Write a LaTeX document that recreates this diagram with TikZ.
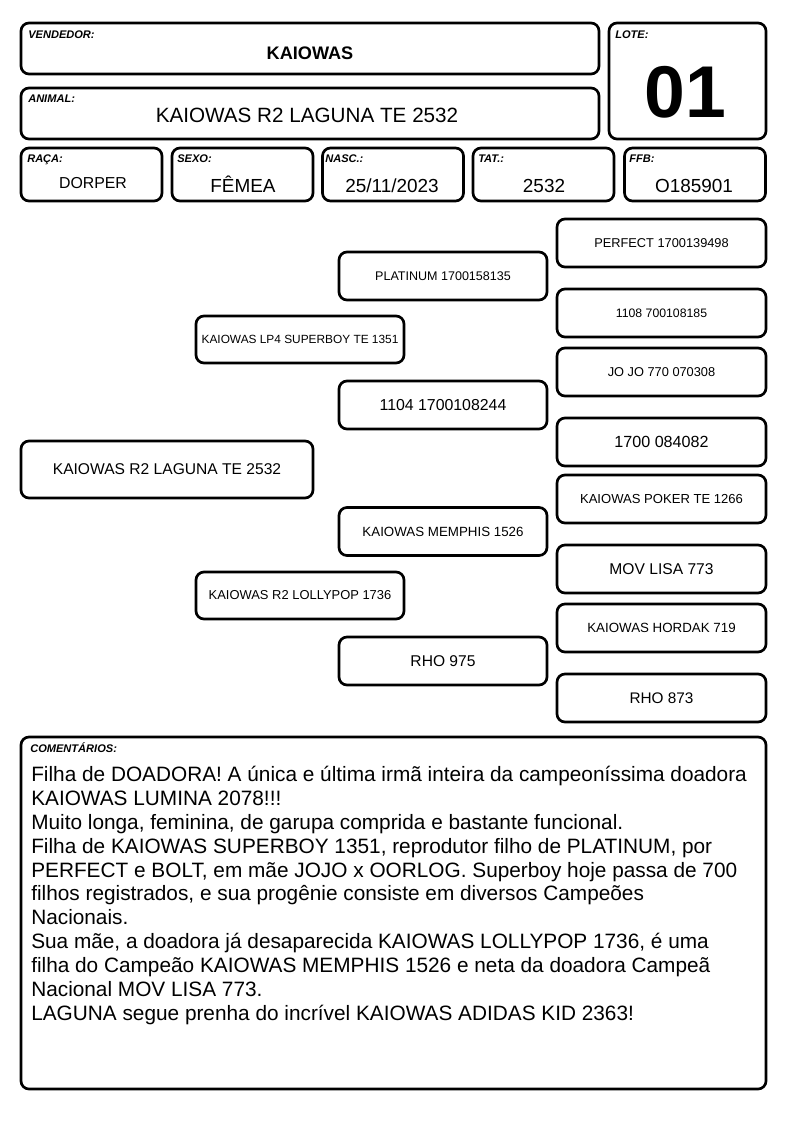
\documentclass[tikz,border=0pt]{standalone}
\usepackage{fontspec}
\setmainfont{Liberation Sans}
\newcommand\pfs[1]{\fontsize{#1}{#1}\selectfont}
\begin{document}
\begin{tikzpicture}[x=0.75pt,y=-0.75pt,
  box/.style={draw, line width=2pt, rounded corners=6pt, inner sep=0pt, align=center},
  hbox/.style={box, minimum width=105.75pt, minimum height=39.75pt},
  pbox/.style={box, minimum width=156pt, minimum height=36pt},
  rbox/.style={box, minimum width=156.75pt, minimum height=36pt},
  lbl/.style={anchor=base west, inner sep=0pt, font=\pfs{8.3}\bfseries\itshape},
  val/.style={anchor=base, inner sep=0pt}]
\useasboundingbox (0,0) rectangle (794,1123);
% header
\node[box, minimum width=433.5pt, minimum height=38.25pt] (vend) at (310,48.5) {};
\node[lbl] (vendl) at (28,39) {VENDEDOR:};
\node[val, font=\pfs{13.6}\bfseries] (vendv) at (310,60) {KAIOWAS};
\node[box, minimum width=433.5pt, minimum height=38.25pt] (anim) at (310,113.5) {};
\node[lbl] (animl) at (28,103) {ANIMAL:};
\node[val, font=\pfs{15.5}] (animv) at (307,123) {KAIOWAS R2 LAGUNA TE 2532};
\node[box, minimum width=117.75pt, minimum height=87pt] (lote) at (687.5,81) {};
\node[lbl] (lotel) at (615,39) {LOTE:};
\node[val, font=\pfs{55}\bfseries] (lotev) at (685,118) {01};
% row
\node[hbox] (raca) at (91.5,174.5) {};
\node[lbl] (racal) at (27,163) {RAÇA:};
\node[val, font=\pfs{11.9}] (racav) at (93,189) {DORPER};
\node[hbox] (sexo) at (242.5,174.5) {};
\node[lbl] (sexol) at (177,163) {SEXO:};
\node[val, font=\pfs{14.2}] (sexov) at (243,193) {FÊMEA};
\node[hbox] (nasc) at (393,174.5) {};
\node[lbl] (nascl) at (325,163) {NASC.:};
\node[val, font=\pfs{14.2}] (nascv) at (392,193) {25/11/2023};
\node[hbox] (tat) at (543.5,174.5) {};
\node[lbl] (tatl) at (478,163) {TAT.:};
\node[val, font=\pfs{14.2}] (tatv) at (544,193) {2532};
\node[hbox] (ffb) at (695,174.5) {};
\node[lbl] (ffbl) at (629,163) {FFB:};
\node[val, font=\pfs{14.2}] (ffbv) at (694,193) {O185901};
% pedigree
\node[box, minimum width=219pt, minimum height=42.75pt, font=\pfs{11.7}] (self) at (167,469.5) {KAIOWAS R2 LAGUNA TE 2532};
\node[box, minimum width=156pt, minimum height=35.25pt, font=\pfs{8.9}] (sire) at (300,339.5) {KAIOWAS LP4 SUPERBOY TE 1351};
\node[box, minimum width=156pt, minimum height=35.25pt, font=\pfs{9.7}] (dam) at (300,595.5) {KAIOWAS R2 LOLLYPOP 1736};
\node[pbox, font=\pfs{9.4}] (plat) at (443,276) {PLATINUM 1700158135};
\node[pbox, font=\pfs{11.9}] (p1104) at (443,405) {1104 1700108244};
\node[pbox, font=\pfs{10}] (memph) at (443,531.5) {KAIOWAS MEMPHIS 1526};
\node[pbox, font=\pfs{11.7}] (rho975) at (443,661) {RHO 975};
\node[rbox, font=\pfs{9.6}] (perf) at (661.5,243) {PERFECT 1700139498};
\node[rbox, font=\pfs{9.2}] (p1108) at (661.5,313) {1108 700108185};
\node[rbox, font=\pfs{9.6}] (jojo) at (661.5,372) {JO JO 770 070308};
\node[rbox, font=\pfs{12.1}] (p1700) at (661.5,442) {1700 084082};
\node[rbox, font=\pfs{9.8}] (poker) at (661.5,499) {KAIOWAS POKER TE 1266};
\node[rbox, font=\pfs{11.7}] (mov) at (661.5,569) {MOV LISA 773};
\node[rbox, font=\pfs{10}] (hordak) at (661.5,628) {KAIOWAS HORDAK 719};
\node[rbox, font=\pfs{11.5}] (rho873) at (661.5,698) {RHO 873};
% comments
\node[box, minimum width=558.75pt, minimum height=264pt] (com) at (393.5,913) {};
\node[lbl] (coml) at (30,752) {COMENTÁRIOS:};
\node[anchor=north west, inner sep=0pt, align=left, font=\fontsize{15.6}{17.9}\selectfont] (comv) at (31,766) {Filha de DOADORA! A única e última irmã inteira da campeoníssima doadora\\
KAIOWAS LUMINA 2078!!!\\
Muito longa, feminina, de garupa comprida e bastante funcional.\\
Filha de KAIOWAS SUPERBOY 1351, reprodutor filho de PLATINUM, por\\
PERFECT e BOLT, em mãe JOJO x OORLOG. Superboy hoje passa de 700\\
filhos registrados, e sua progênie consiste em diversos Campeões\\
Nacionais.\\
Sua mãe, a doadora já desaparecida KAIOWAS LOLLYPOP 1736, é uma\\
filha do Campeão KAIOWAS MEMPHIS 1526 e neta da doadora Campeã\\
Nacional MOV LISA 773.\\
LAGUNA segue prenha do incrível KAIOWAS ADIDAS KID 2363!};
\end{tikzpicture}
\end{document}
